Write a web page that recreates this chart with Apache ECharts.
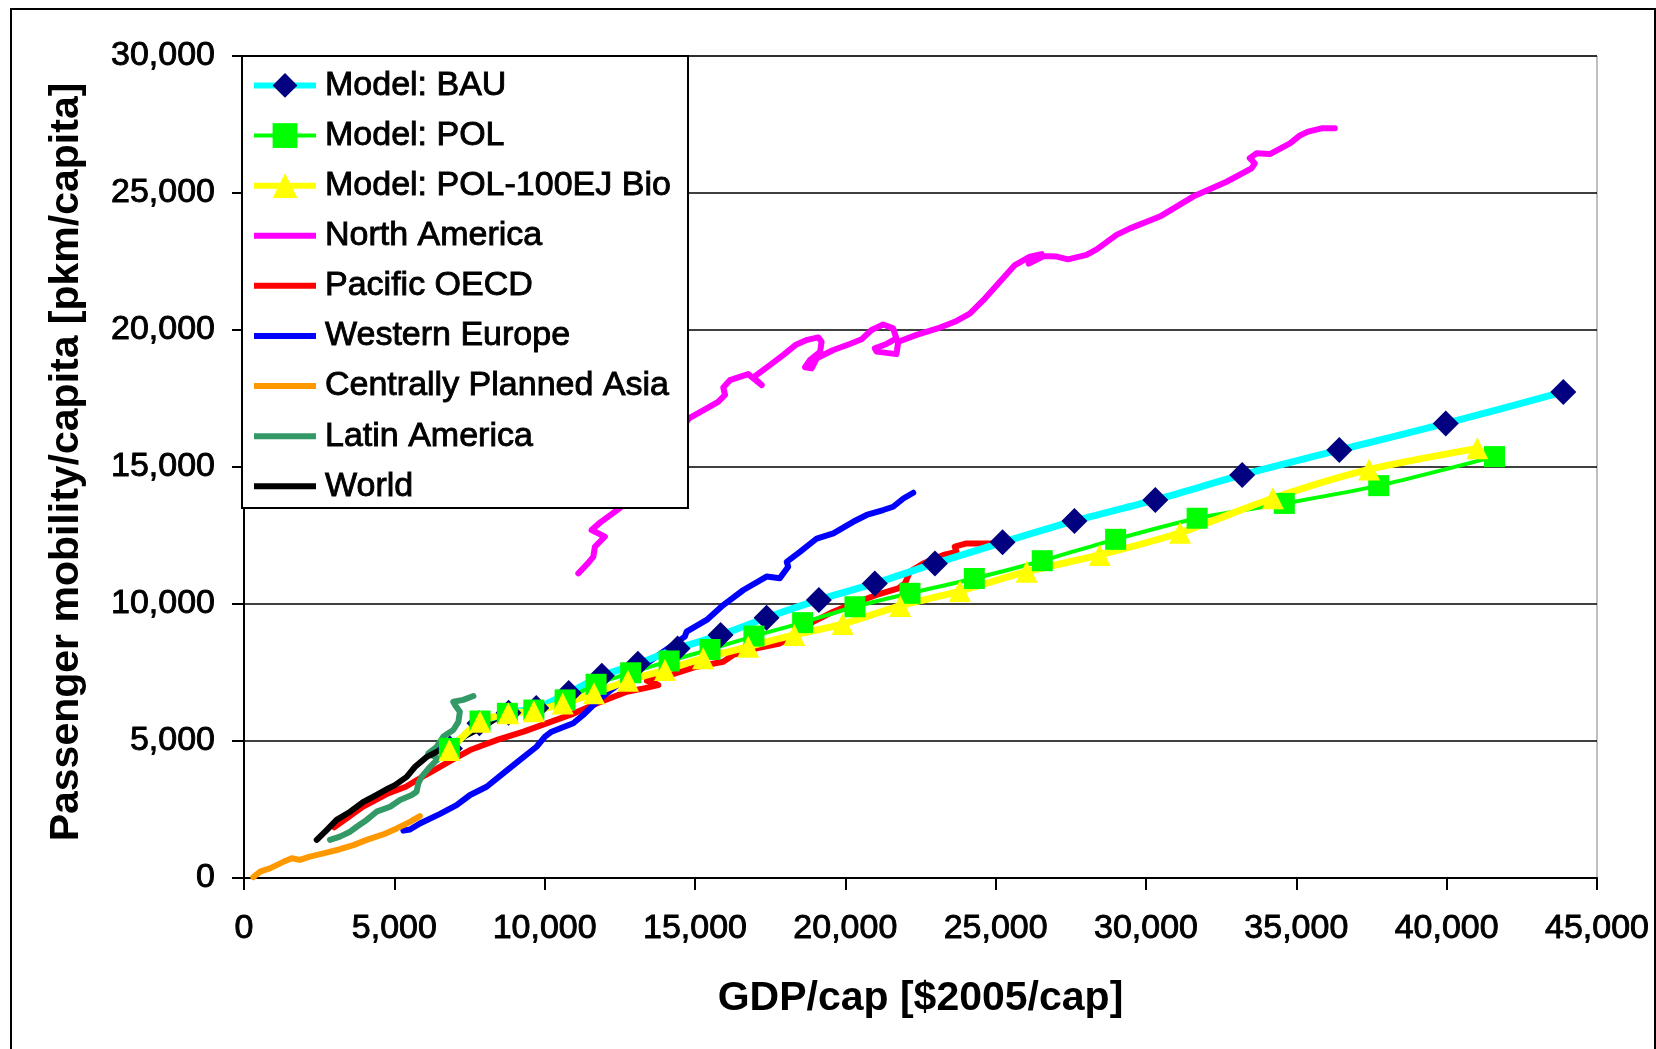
<!DOCTYPE html>
<html>
<head>
<meta charset="utf-8">
<script src="https://cdn.jsdelivr.net/npm/echarts@6/dist/echarts.min.js"></script>
<style>
  html, body { margin: 0; padding: 0; background: #ffffff; }
  #chart { width: 1656px; height: 1049px; }
</style>
</head>
<body>
<div id="chart"></div>
<script>
// Model scenarios: GDP per capita ($2005) and passenger mobility (pkm per capita)
const bauGdp = [6850, 7830, 8800, 9720, 10800, 11900, 13100, 14420, 15850, 17380, 19120, 20980, 22980, 25230, 27620, 30310, 33200, 36430, 39970, 43880];
const bauPkm = [4730, 5650, 6030, 6200, 6750, 7380, 7820, 8380, 8870, 9500, 10150, 10750, 11480, 12250, 13030, 13800, 14710, 15620, 16590, 17740];

const polGdp = [6830, 7850, 8760, 9640, 10680, 11710, 12860, 14140, 15500, 16960, 18580, 20320, 22150, 24290, 26550, 28990, 31700, 34600, 37740, 41590];
const polPkm = [4730, 5730, 6010, 6130, 6500, 7070, 7490, 7920, 8340, 8830, 9320, 9900, 10390, 10930, 11580, 12360, 13130, 13670, 14320, 15380];

const bioGdp = [6830, 7850, 8790, 9640, 10600, 11640, 12770, 14000, 15270, 16770, 18300, 19910, 21820, 23810, 26030, 28460, 31130, 34220, 37420, 41020];
const bioPkm = [4670, 5700, 6010, 6090, 6370, 6740, 7200, 7590, 8020, 8440, 8870, 9270, 9930, 10470, 11180, 11790, 12600, 13860, 14910, 15680];

// Historical regional trajectories
const naGdp = [11120, 11450, 11620, 11670, 12000, 11560, 11840, 12500, 14810, 15390, 15770, 16000, 15940, 16160, 16770, 17220, 16940, 17490, 17940, 18340, 18730, 19100, 19210, 19160, 18820, 18660, 18880, 19050, 19600, 20150, 20540, 20870, 21260, 21590, 21700, 21370, 20980, 21040, 21700, 21760, 22370, 23150, 23640, 24140, 24590, 25140, 25640, 26140, 26530, 26100, 26600, 27030, 27410, 28020, 28360, 29020, 29470, 30460, 31570, 32680, 33510, 33620, 33450, 33680, 34120, 34790, 35120, 35390, 35840, 36280];
const naPkm = [11120, 11500, 11730, 12090, 12460, 12700, 12970, 13500, 16780, 17140, 17380, 17630, 17900, 18170, 18390, 17990, 18270, 18720, 19090, 19450, 19640, 19730, 19570, 19200, 18900, 18640, 18600, 18970, 19270, 19490, 19660, 20000, 20200, 20060, 19690, 19490, 19330, 19210, 19120, 19570, 19820, 20090, 20300, 20600, 21090, 21760, 22370, 22680, 22770, 22420, 22700, 22680, 22580, 22740, 22940, 23470, 23710, 24140, 24870, 25410, 25900, 26080, 26270, 26450, 26420, 26810, 27100, 27240, 27360, 27360];

const paGdp = [3000, 3950, 4790, 5380, 5850, 6330, 6920, 7520, 8470, 9300, 10130, 10960, 11790, 12730, 13300, 13780, 13400, 14060, 15050, 15940, 16270, 17050, 17820, 18380, 18930, 19600, 20260, 21040, 21760, 21980, 22150, 22590, 23260, 23700, 23640, 24030, 24910, 25100];
const paPkm = [1850, 2600, 3090, 3330, 3640, 3940, 4310, 4670, 5060, 5340, 5670, 6000, 6400, 6800, 6920, 7040, 7200, 7370, 7710, 7890, 8140, 8380, 8560, 8930, 9350, 9720, 10020, 10330, 10570, 10750, 11180, 11480, 11790, 11900, 12090, 12210, 12210, 12190];

const weGdp = [5300, 5520, 5850, 6520, 7070, 7520, 8070, 8620, 9180, 9730, 10010, 10230, 10950, 11280, 11620, 12060, 12500, 13170, 13830, 14660, 14720, 15390, 15940, 16610, 17380, 17820, 18100, 18050, 18490, 19050, 19600, 20260, 20710, 21260, 21590, 21930, 22260];
const wePkm = [1730, 1770, 1990, 2340, 2660, 3030, 3330, 3820, 4310, 4790, 5160, 5340, 5650, 5950, 6310, 6740, 7100, 7650, 8170, 8810, 8990, 9420, 9960, 10510, 11000, 10940, 11360, 11540, 11900, 12390, 12580, 13000, 13250, 13430, 13550, 13850, 14060];

const cpaGdp = [310, 530, 860, 1310, 1590, 1860, 2190, 2640, 3190, 3640, 4080, 4630, 5080, 5520, 5850];
const cpaPkm = [30, 230, 350, 590, 720, 660, 780, 900, 1050, 1200, 1390, 1590, 1810, 2050, 2260];

const laGdp = [2860, 3190, 3530, 3750, 4080, 4410, 4860, 5190, 5580, 5740, 5800, 5910, 6190, 6460, 6130, 6410, 6630, 6960, 7130, 7180, 7020, 6960, 7290, 7630];
const laPkm = [1390, 1510, 1690, 1870, 2120, 2420, 2600, 2850, 3030, 3150, 3460, 3700, 4060, 4360, 4550, 4790, 5160, 5400, 5700, 6070, 6310, 6430, 6500, 6640];

const worldGdp = [2420, 2750, 3080, 3530, 3970, 4410, 4800, 5020, 5410, 5690, 6080, 6520, 6960, 7410, 7850, 8450];
const worldPkm = [1390, 1750, 2120, 2420, 2780, 3030, 3270, 3390, 3690, 4060, 4420, 4670, 4910, 5220, 5460, 5870];

const FONT = '"Liberation Sans", Arial, Helvetica, sans-serif';

function pairs(xs, ys) {
  return xs.map((x, i) => [x, ys[i]]);
}

function modelSeries(name, xs, ys, lineColor, markerColor, symbol, size, width) {
  return {
    name: name,
    type: 'line',
    data: pairs(xs, ys),
    smooth: 0.25,
    symbol: symbol,
    symbolSize: size,
    showSymbol: true,
    showAllSymbol: true,
    itemStyle: { color: markerColor },
    lineStyle: { color: lineColor, width: width, cap: 'round', join: 'round' },
    emphasis: { disabled: true },
    z: 5
  };
}

function historySeries(name, xs, ys, color) {
  return {
    name: name,
    type: 'line',
    data: pairs(xs, ys),
    smooth: false,
    symbol: 'none',
    itemStyle: { color: color },
    lineStyle: { color: color, width: 6, cap: 'round', join: 'round' },
    emphasis: { disabled: true },
    z: 3
  };
}

const series = [
  modelSeries('Model: BAU', bauGdp, bauPkm, '#00FFFF', '#000080', 'diamond', 26, 7),
  modelSeries('Model: POL', polGdp, polPkm, '#00FF00', '#00FF00', 'rect', 21, 4),
  modelSeries('Model: POL-100EJ Bio', bioGdp, bioPkm, '#FFFF00', '#FFFF00', 'triangle', 22, 7),
  historySeries('North America', naGdp, naPkm, '#FF00FF'),
  historySeries('Pacific OECD', paGdp, paPkm, '#FF0000'),
  historySeries('Western Europe', weGdp, wePkm, '#0000FF'),
  historySeries('Centrally Planned Asia', cpaGdp, cpaPkm, '#FF9900'),
  historySeries('Latin America', laGdp, laPkm, '#339966'),
  historySeries('World', worldGdp, worldPkm, '#000000')
];

// legend swatches: line only for the regional series, line + marker for the model runs
const legendData = series.map((s, i) => {
  const item = { name: s.name, lineStyle: { width: i === 1 ? 4 : 6, cap: 'butt' } };
  if (i >= 3) item.itemStyle = { opacity: 0 };
  return item;
});

const fmt = v => v.toLocaleString('en-US');

// slightly heavier strokes for the regular-weight labels
const labelText = { fontSize: 34, color: '#000', fontFamily: FONT, textBorderColor: '#000', textBorderWidth: 0.9 };

const chart = echarts.init(document.getElementById('chart'), null, { renderer: 'canvas' });
chart.setOption({
  animation: false,
  backgroundColor: '#ffffff',
  textStyle: { fontFamily: FONT },
  grid: {
    left: 244, right: 59, top: 56, bottom: 171,
    show: true, borderColor: '#808080', borderWidth: 1, backgroundColor: '#ffffff'
  },
  xAxis: {
    type: 'value',
    min: 0, max: 45000, interval: 5000,
    name: 'GDP/cap [$2005/cap]',
    nameLocation: 'middle',
    nameGap: 100,
    nameTextStyle: { fontSize: 41, fontWeight: 'bold', color: '#000', fontFamily: FONT },
    axisLine: { show: true, onZero: false, lineStyle: { color: '#000', width: 2 } },
    axisTick: { show: true, inside: false, length: 12, lineStyle: { color: '#000', width: 2 } },
    axisLabel: Object.assign({ show: true, margin: 34, formatter: fmt, showMaxLabel: true, showMinLabel: true }, labelText),
    splitLine: { show: false }
  },
  yAxis: {
    type: 'value',
    min: 0, max: 30000, interval: 5000,
    name: 'Passenger mobility/capita [pkm/capita]',
    nameLocation: 'middle',
    nameRotate: 90,
    nameGap: 157,
    nameTextStyle: { fontSize: 41, fontWeight: 'bold', color: '#000', fontFamily: FONT, padding: [0, 0, 0, 10] },
    axisLine: { show: true, onZero: false, lineStyle: { color: '#000', width: 2 } },
    axisTick: { show: true, inside: false, length: 12, lineStyle: { color: '#000', width: 2 } },
    axisLabel: Object.assign({ show: true, margin: 29, formatter: fmt }, labelText),
    splitLine: { show: true, lineStyle: { color: '#000', width: 1.5 } }
  },
  legend: {
    orient: 'vertical',
    left: 251, top: 68,
    padding: 0,
    itemWidth: 62, itemHeight: 31, itemGap: 15.2,
    selectedMode: false,
    z: 6,
    textStyle: Object.assign({ lineHeight: 34, padding: [0, 0, 0, 4] }, labelText),
    data: legendData
  },
  graphic: [
    {
      type: 'rect', z: 4, silent: true,
      shape: { x: 242, y: 56, width: 446, height: 452 },
      style: { fill: '#ffffff', stroke: '#000000', lineWidth: 2 }
    },
    {
      type: 'rect', z: 10, silent: true,
      shape: { x: 11, y: 9, width: 1644, height: 1100 },
      style: { fill: null, stroke: '#000000', lineWidth: 2 }
    }
  ],
  series: series
});
</script>
</body>
</html>
